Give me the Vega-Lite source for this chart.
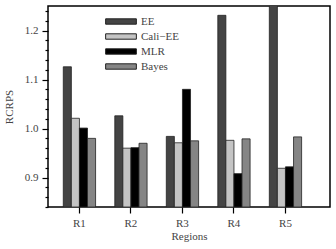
{
  "$schema": "https://vega.github.io/schema/vega-lite/v6.json",
  "autosize": "none",
  "padding": {"left": 48, "top": 6, "right": 6, "bottom": 42},
  "width": 282,
  "height": 201,
  "config": {
    "font": "Liberation Serif",
    "view": {"stroke": "#000", "strokeWidth": 1.5},
    "axis": {"labelFont": "Liberation Serif", "titleFont": "Liberation Serif", "labelColor": "#444", "titleColor": "#444", "labelFontSize": 11, "titleFontSize": 11, "titleFontWeight": "normal", "domainColor": "#000", "tickColor": "#000", "domainWidth": 1.5, "tickWidth": 1.2, "grid": false},
    "legend": {"labelFont": "Liberation Serif", "labelFontSize": 11, "labelColor": "#444", "labelFontWeight": "normal"}
  },
  "data": {"values": [
    {"region": "R1", "series": "EE", "value": 1.126},
    {"region": "R1", "series": "Cali−EE", "value": 1.021},
    {"region": "R1", "series": "MLR", "value": 1.001},
    {"region": "R1", "series": "Bayes", "value": 0.980},
    {"region": "R2", "series": "EE", "value": 1.026},
    {"region": "R2", "series": "Cali−EE", "value": 0.960},
    {"region": "R2", "series": "MLR", "value": 0.961},
    {"region": "R2", "series": "Bayes", "value": 0.970},
    {"region": "R3", "series": "EE", "value": 0.984},
    {"region": "R3", "series": "Cali−EE", "value": 0.971},
    {"region": "R3", "series": "MLR", "value": 1.080},
    {"region": "R3", "series": "Bayes", "value": 0.975},
    {"region": "R4", "series": "EE", "value": 1.231},
    {"region": "R4", "series": "Cali−EE", "value": 0.976},
    {"region": "R4", "series": "MLR", "value": 0.908},
    {"region": "R4", "series": "Bayes", "value": 0.979},
    {"region": "R5", "series": "EE", "value": 1.30},
    {"region": "R5", "series": "Cali−EE", "value": 0.919},
    {"region": "R5", "series": "MLR", "value": 0.922},
    {"region": "R5", "series": "Bayes", "value": 0.983}
  ]},
  "mark": {"type": "bar", "clip": true, "stroke": "#222", "strokeWidth": 0.8},
  "encoding": {
    "x": {
      "field": "region", "type": "nominal",
      "scale": {"paddingInner": 0.373, "paddingOuter": 0.424, "align": 0.35},
      "axis": {"title": "Regions", "labelAngle": 0, "tickSize": 6, "labelPadding": 4, "titlePadding": 2, "domain": false}
    },
    "xOffset": {"field": "series", "type": "nominal", "sort": ["EE", "Cali−EE", "MLR", "Bayes"], "scale": {"paddingInner": 0, "paddingOuter": 0}},
    "y": {
      "field": "value", "type": "quantitative",
      "scale": {"domain": [0.84, 1.25], "nice": false, "zero": false},
      "axis": {
        "title": "RCRPS",
        "domain": false,
        "values": [0.84, 0.86, 0.88, 0.9, 0.92, 0.94, 0.96, 0.98, 1.0, 1.02, 1.04, 1.06, 1.08, 1.1, 1.12, 1.14, 1.16, 1.18, 1.2, 1.22, 1.24],
        "labelExpr": "abs(datum.value*10 - round(datum.value*10)) < 0.001 ? format(datum.value, '.1f') : ''",
        "tickSize": {"condition": {"test": "abs(datum.value*10 - round(datum.value*10)) < 0.001", "value": 6}, "value": 3},
        "labelPadding": 4,
        "titlePadding": 10
      }
    },
    "y2": {"datum": 0.84},
    "color": {
      "field": "series", "type": "nominal",
      "sort": ["EE", "Cali−EE", "MLR", "Bayes"],
      "scale": {"domain": ["EE", "Cali−EE", "MLR", "Bayes"], "range": ["#444444", "#c4c4c4", "#000000", "#858585"]},
      "legend": {
        "title": null, "orient": "none", "legendX": 67.5, "legendY": 10, "padding": 0,
        "symbolType": "M-4,-0.7H4V0.7H-4Z", "symbolSize": 59,
        "symbolStrokeColor": "#222", "symbolStrokeWidth": 1, "symbolOpacity": 1,
        "labelOffset": 14.5, "rowPadding": 3
      }
    }
  }
}
